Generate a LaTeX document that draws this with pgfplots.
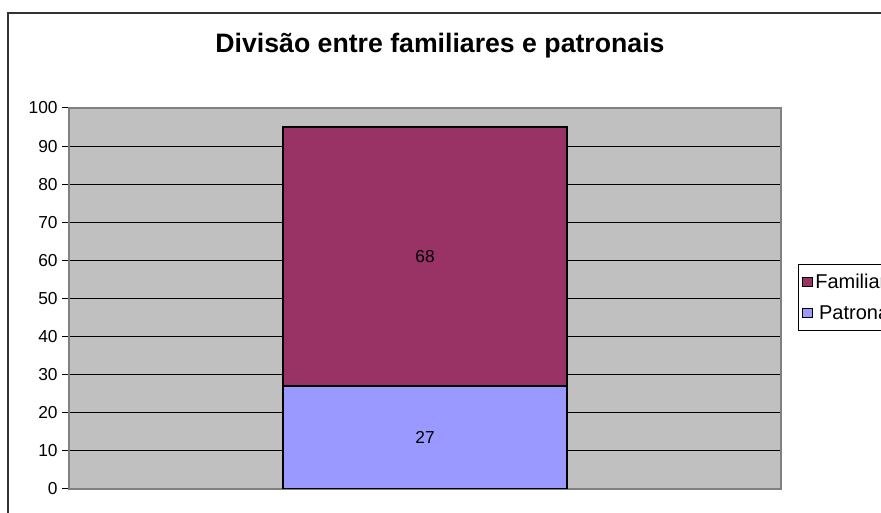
\documentclass[border=0pt]{standalone}
\usepackage{fontspec}
\setmainfont{Liberation Sans}
\usepackage{pgfplots}
\usepackage{pgfplotstable}
\pgfplotsset{compat=1.18}
\definecolor{plotgray}{RGB}{192,192,192}
\definecolor{framegray}{RGB}{128,128,128}
\definecolor{famil}{RGB}{153,51,102}
\definecolor{patron}{RGB}{153,153,255}

% one category, two stacked parts
\pgfplotstableread{
x v
0 27
}\patronais
\pgfplotstableread{
x v
0 68
}\familiares

\begin{document}
\begin{tikzpicture}
\path[use as bounding box] (0,0) rectangle (660.75pt,384.75pt);
\clip (0,0) rectangle (660.75pt,384.75pt);
\fill[white] (0,0) rectangle (660.75pt,384.75pt);
\draw[black!80, line width=1pt] (6pt,-5pt) -- (6pt,375pt) -- (670pt,375pt);
\node[anchor=base, font=\bfseries\fontsize{20}{24}\selectfont] at (330pt,345.5pt) {Divisão entre familiares e patronais};
\begin{axis}[
    at={(51.75pt,18pt)}, anchor=south west,
    scale only axis,
    width=534pt, height=285.75pt,
    ybar stacked,
    bar width=213pt,
    xmin=-0.5, xmax=0.5,
    ymin=0, ymax=100,
    ytick={0,10,...,100},
    xtick=\empty,
    ymajorgrids,
    major grid style={black, line width=0.75pt},
    axis background/.style={fill=plotgray},
    axis line style={framegray, line width=1.5pt},
    ytick align=outside,
    ytick pos=left,
    major tick length=5pt,
    tick style={black, line width=0.75pt},
    yticklabel style={font=\fontsize{13}{15}\selectfont},
    /pgf/number format/assume math mode=true,
    nodes near coords,
    point meta=explicit,
    every node near coord/.append style={anchor=center, font=\fontsize{13}{15}\selectfont, text=black},
    reverse legend,
    legend style={at={(1.0239,0.5906)}, anchor=north west, draw=black, fill=white,
        font=\fontsize{15}{17}\selectfont, row sep=7pt, inner xsep=3pt, inner ysep=5pt,
        /tikz/every even column/.append style={column sep=2pt}},
    legend image code/.code={\draw[#1, draw=black, line width=0.75pt] (0pt,-3.5pt) rectangle (7pt,3.5pt);},
]
\addplot[fill=patron, draw=black, line width=1pt]
    table[x=x, y=v, meta=v] {\patronais};
\addplot[fill=famil, draw=black, line width=1pt]
    table[x=x, y=v, meta=v] {\familiares};
\legend{Patronais, Familiares}
\end{axis}
\end{tikzpicture}
\end{document}
